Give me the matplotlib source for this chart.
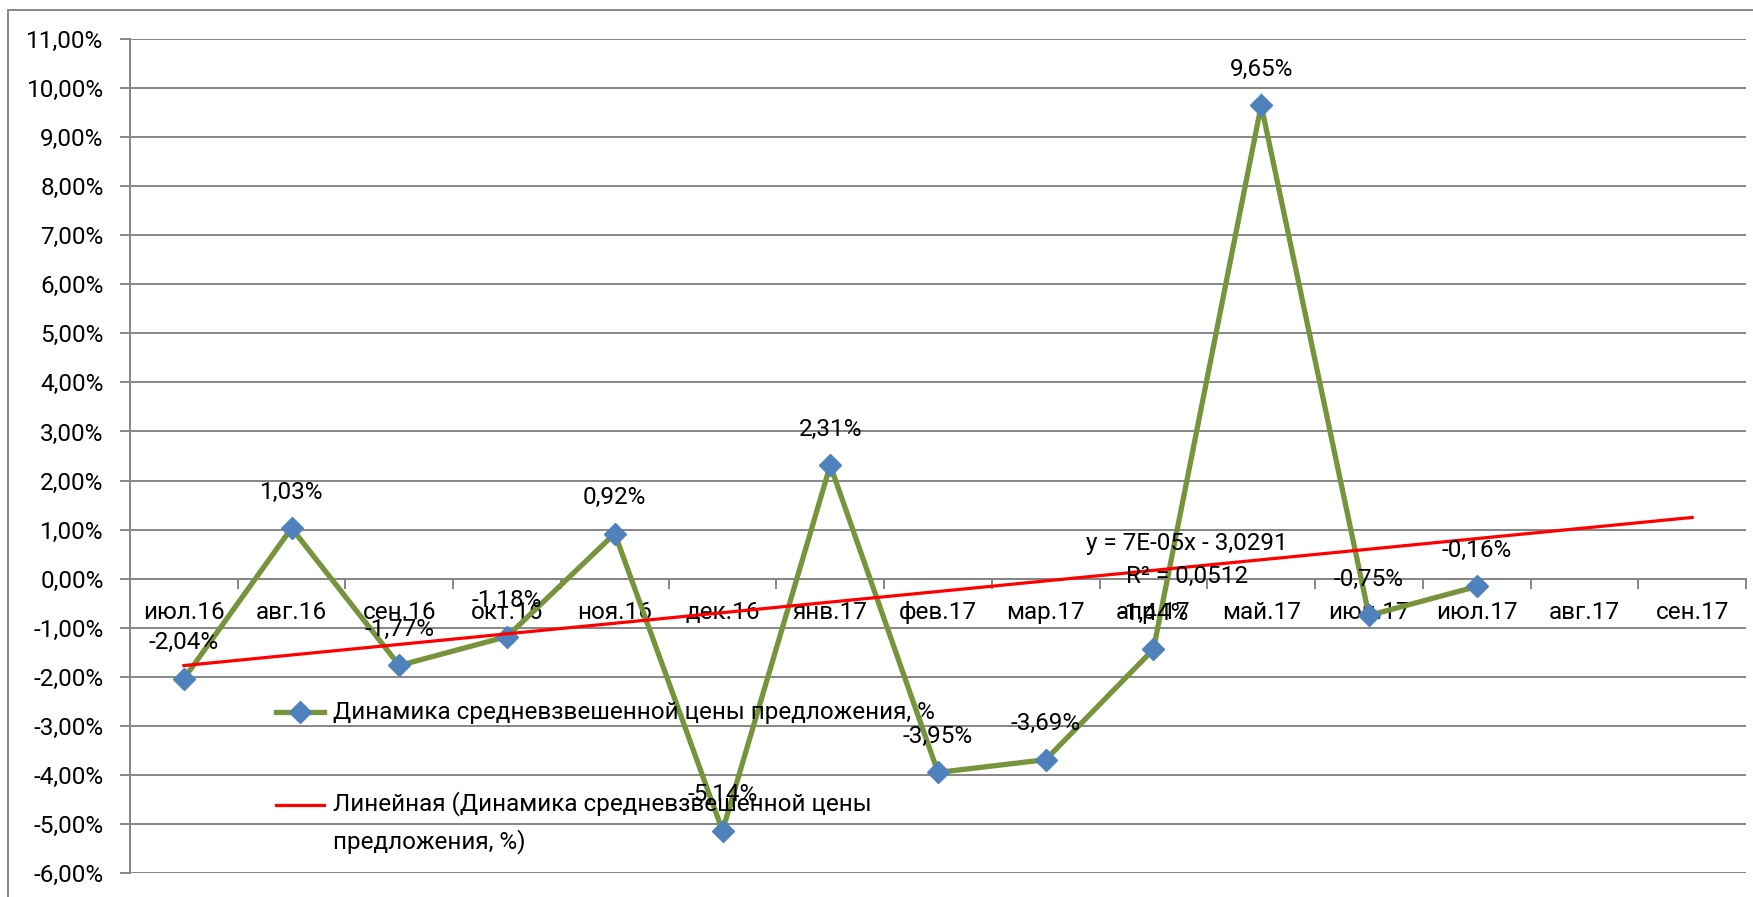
import numpy as np
import matplotlib
matplotlib.use('Agg')
from matplotlib import pyplot as plt
from matplotlib.patches import Rectangle
from matplotlib.ticker import FixedLocator, NullFormatter

plt.rcParams['font.family'] = ['Roboto', 'DejaVu Sans']
FS = 17.5

months = ['июл.16', 'авг.16', 'сен.16', 'окт.16', 'ноя.16', 'дек.16', 'янв.17',
          'фев.17', 'мар.17', 'апр.17', 'май.17', 'июн.17', 'июл.17', 'авг.17', 'сен.17']
price_change = [-2.04, 1.03, -1.77, -1.18, 0.92, -5.14, 2.31,
                -3.95, -3.69, -1.44, 9.65, -0.75, -0.16]
trend_text = ['y = 7E-05x - 3,0291', 'R² = 0,0512']
series_name = 'Динамика средневзвешенной цены предложения, %'
trend_name = 'Линейная (Динамика средневзвешенной цены\nпредложения, %)'

GREEN = '#77933C'
BLUE = '#4F81BD'
GRID = '#868686'


def pct(v):
    return ('%.2f%%' % v).replace('.', ',')


fig = plt.figure(figsize=(17.53, 8.97), dpi=100)
ax = fig.add_axes([130/1753, 1 - 873/897, 1616/1753, 834/897])

x = np.arange(len(price_change))
ax.plot(x, price_change, color=GREEN, lw=3.8, marker='D', ms=11,
        mfc=BLUE, mec=BLUE, zorder=4, solid_joinstyle='miter')

# linear trend, extended two months ahead
k, b = np.polyfit(x, price_change, 1)
xt = np.arange(len(months))
ax.plot(xt, k * xt + b, color='#FF0000', lw=2.3, zorder=5)

for xi, v in zip(x, price_change):
    ax.annotate(pct(v), (xi, v), xytext=(0, 26), textcoords='offset points',
                ha='center', va='center', fontsize=FS, zorder=6)

ax.text(9.31, 0.72, trend_text[0], ha='center', va='center', fontsize=FS, zorder=6)
ax.text(9.31, 0.04, trend_text[1], ha='center', va='center', fontsize=FS, zorder=6)

ax.set_xlim(-0.5, len(months) - 0.5)
ax.set_ylim(-6, 11)
ax.set_yticks(np.arange(-6, 12, 1))
ax.set_yticklabels([pct(v) for v in range(-6, 12)], fontsize=FS)
ax.yaxis.grid(True, color=GRID, lw=1.4)
ax.set_axisbelow(True)

ax.xaxis.set_major_locator(FixedLocator(np.arange(-0.5, len(months), 1)))
ax.xaxis.set_major_formatter(NullFormatter())
ax.xaxis.set_minor_locator(FixedLocator(xt))
ax.set_xticklabels(months, minor=True)
ax.tick_params(axis='x', which='major', length=7, width=1.4, color=GRID, direction='out')
ax.tick_params(axis='x', which='minor', length=0, pad=16, labelsize=FS)
ax.tick_params(axis='y', length=7, width=1.4, color=GRID, pad=12)

for s in ['top', 'right']:
    ax.spines[s].set_visible(False)
ax.spines['bottom'].set_position(('data', 0))
ax.spines['bottom'].set_color(GRID)
ax.spines['bottom'].set_linewidth(1.4)
ax.spines['left'].set_color(GRID)
ax.spines['left'].set_linewidth(1.4)

# legend drawn inside the plot area
ax.plot([0.0903, 0.120], [0.193, 0.193], transform=ax.transAxes, color=GREEN, lw=3.8, zorder=6)
ax.plot([0.105], [0.193], transform=ax.transAxes, marker='D', ms=11, mfc=BLUE, mec=BLUE, zorder=7)
ax.text(0.1256, 0.193, series_name, transform=ax.transAxes, va='center', fontsize=FS, zorder=6)
ax.plot([0.0903, 0.120], [0.0815, 0.0815], transform=ax.transAxes, color='#FF0000', lw=2.3, zorder=6)
ax.text(0.1256, 0.0977, trend_name, transform=ax.transAxes, va='top', fontsize=FS,
        linespacing=1.67, zorder=6)

fig.add_artist(Rectangle((8/1753, -0.2), 1.2, 1.2 - 10/897, transform=fig.transFigure,
                         fill=False, ec=GRID, lw=1.4))

fig.savefig('out.png', dpi=100)
